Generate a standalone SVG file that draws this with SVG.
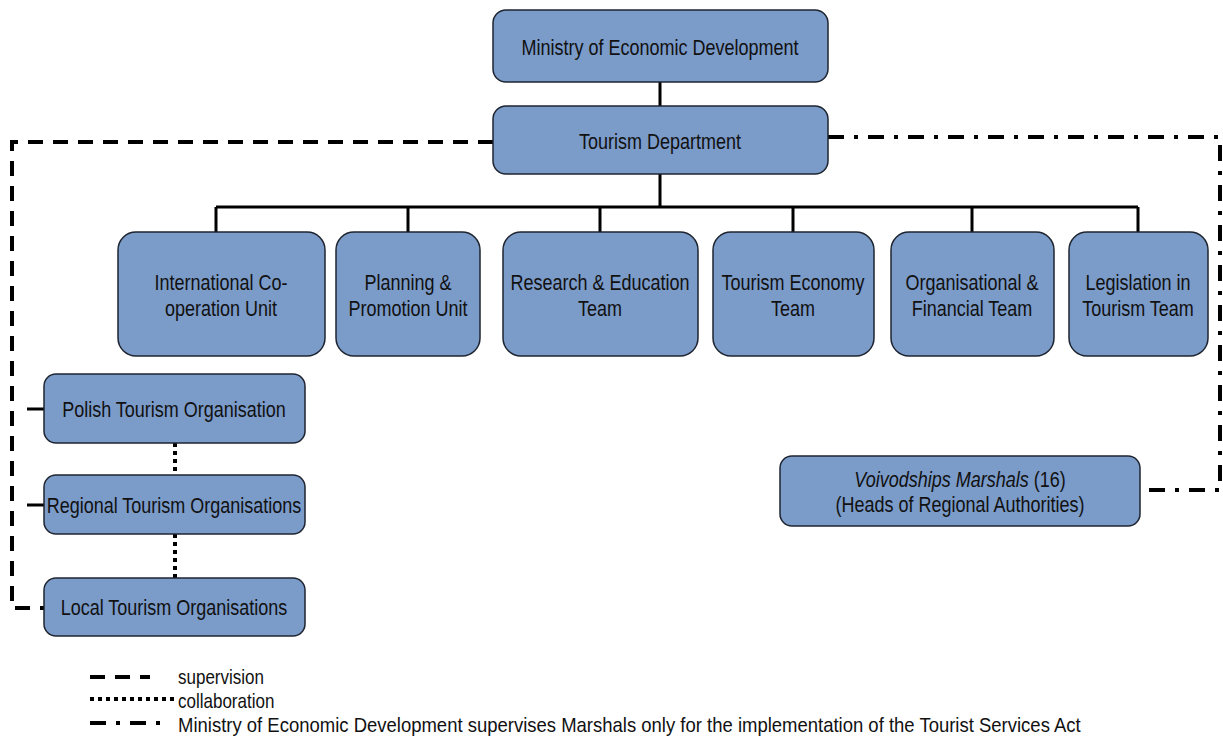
<svg xmlns="http://www.w3.org/2000/svg" width="1223" height="743" viewBox="0 0 1223 743">
<style>
.box{fill:#7b9bc9;stroke:#1e2530;stroke-width:1.5}
.t{font-family:"Liberation Sans",Arial,sans-serif;font-size:22.5px;fill:#111;text-anchor:middle}
.lg{font-family:"Liberation Sans",Arial,sans-serif;font-size:20px;fill:#111}
.solid{stroke:#000;stroke-width:3;fill:none}
.dash{stroke:#000;stroke-width:4;fill:none;stroke-dasharray:15 10}
.dot{stroke:#000;stroke-width:4;fill:none;stroke-dasharray:4 4}
.dd{stroke:#000;stroke-width:4;fill:none;stroke-dasharray:16 10 4 10}
</style>
<rect width="1223" height="743" fill="#fff"/>
<g id="connectors">
<path class="solid" d="M660 82V106M660 174V207M216 207H1138M216 207V232M408 207V232M600 207V232M793 207V232M972 207V232M1138 207V232"/>
<path class="dash" d="M493 142H12V608H44"/>
<path class="solid" stroke-width="4" d="M27 409H44M27 505H44"/>
<path class="dot" d="M175 443V475M175 534V578"/>
<path class="dd" d="M828 137H1220V490H1141"/>
</g>
<g id="ministry"><rect class="box" x="493" y="10" width="335" height="72" rx="13"/><text class="t" transform="translate(660 55) scale(0.8 1)">Ministry of Economic Development</text></g>
<g id="tourism-dept"><rect class="box" x="493" y="106" width="335" height="68" rx="13"/><text class="t" transform="translate(660 149) scale(0.8 1)">Tourism Department</text></g>
<g id="intl"><rect class="box" x="118" y="232" width="207" height="124" rx="18"/><text class="t" transform="translate(221 290) scale(0.8 1)">International Co-</text><text class="t" transform="translate(221 316) scale(0.8 1)">operation Unit</text></g>
<g id="planning"><rect class="box" x="336" y="232" width="144" height="124" rx="18"/><text class="t" transform="translate(408 290) scale(0.8 1)">Planning &amp;</text><text class="t" transform="translate(408 316) scale(0.8 1)">Promotion Unit</text></g>
<g id="research"><rect class="box" x="503" y="232" width="195" height="124" rx="18"/><text class="t" transform="translate(600 290) scale(0.8 1)">Research &amp; Education</text><text class="t" transform="translate(600 316) scale(0.8 1)">Team</text></g>
<g id="economy"><rect class="box" x="713" y="232" width="161" height="124" rx="18"/><text class="t" transform="translate(793 290) scale(0.8 1)">Tourism Economy</text><text class="t" transform="translate(793 316) scale(0.8 1)">Team</text></g>
<g id="org-fin"><rect class="box" x="891" y="232" width="163" height="124" rx="18"/><text class="t" transform="translate(972 290) scale(0.8 1)">Organisational &amp;</text><text class="t" transform="translate(972 316) scale(0.8 1)">Financial Team</text></g>
<g id="legislation"><rect class="box" x="1069" y="232" width="139" height="124" rx="18"/><text class="t" transform="translate(1138 290) scale(0.8 1)">Legislation in</text><text class="t" transform="translate(1138 316) scale(0.8 1)">Tourism Team</text></g>
<g id="polish"><rect class="box" x="44" y="374" width="261" height="69" rx="12"/><text class="t" transform="translate(174 417) scale(0.8 1)">Polish Tourism Organisation</text></g>
<g id="regional"><rect class="box" x="44" y="475" width="261" height="59" rx="12"/><text class="t" transform="translate(174 513) scale(0.8 1)">Regional Tourism Organisations</text></g>
<g id="local"><rect class="box" x="44" y="578" width="261" height="58" rx="12"/><text class="t" transform="translate(174 615) scale(0.8 1)">Local Tourism Organisations</text></g>
<g id="voivod"><rect class="box" x="780" y="456" width="360" height="70" rx="12"/><text class="t" transform="translate(960 487) scale(0.8 1)"><tspan font-style="italic">Voivodships Marshals</tspan> (16)</text><text class="t" transform="translate(960 512) scale(0.8 1)">(Heads of Regional Authorities)</text></g>
<g id="legend">
<path class="dash" d="M90 677H150" stroke-dasharray="14 8"/>
<path class="dot" d="M90 699H176" stroke-width="3" stroke-dasharray="3 3"/>
<path class="dd" d="M90 723H160" stroke-dasharray="14 12 3 12"/>
<text class="lg" transform="translate(178 684) scale(0.85 1)">supervision</text>
<text class="lg" transform="translate(178 708) scale(0.85 1)">collaboration</text>
<text class="lg" transform="translate(178 732) scale(0.85 1)" textLength="1062" lengthAdjust="spacingAndGlyphs">Ministry of Economic Development supervises Marshals only for the implementation of the Tourist Services Act</text>
</g>
</svg>
